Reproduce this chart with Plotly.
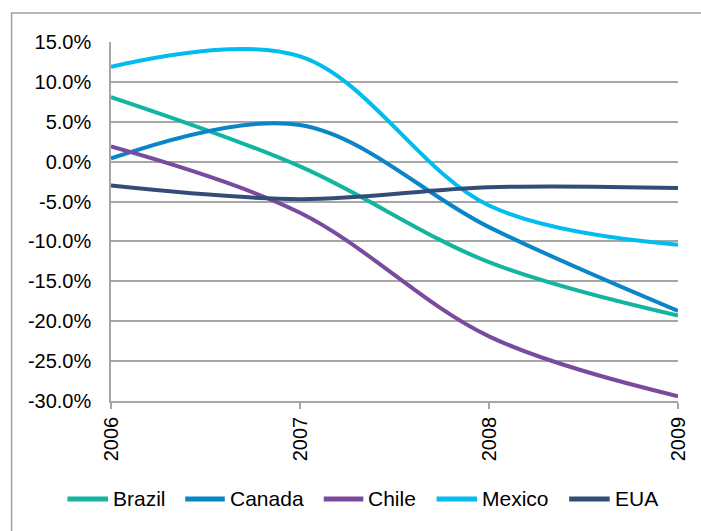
import plotly.graph_objects as go

years = ["2006", "2007", "2008", "2009"]
brazil = [8.1, -0.6, -12.6, -19.3]
canada = [0.4, 4.6, -8.2, -18.7]
chile = [1.9, -6.4, -21.9, -29.4]
mexico = [11.9, 13.2, -5.5, -10.4]
eua = [-3.0, -4.7, -3.2, -3.3]
ytick_vals = [15, 10, 5, 0, -5, -10, -15, -20, -25, -30]
ytick_text = ["15.0%", "10.0%", "5.0%", "0.0%", "-5.0%", "-10.0%", "-15.0%", "-20.0%", "-25.0%", "-30.0%"]

series = [
    ("Brazil", brazil, "#12B5A0"),
    ("Canada", canada, "#0A86C8"),
    ("Chile", chile, "#7A4A9E"),
    ("Mexico", mexico, "#00BCEF"),
    ("EUA", eua, "#344D76"),
]

xpos = list(range(len(years)))
FONT = "Liberation Sans, Arial, sans-serif"

# plot area in pixels (for legend layout conversion)
L, R, T, B = 111, 17, 42, 130
W, H = 701, 531
PW, PH = W - L - R, H - T - B


def px2x(px):
    return (px - L) / PW


def py2y(py):
    return (H - B - py) / PH


fig = go.Figure()
for name, vals, col in series:
    fig.add_trace(go.Scatter(
        x=xpos, y=vals, name=name, mode="lines", showlegend=False,
        line=dict(color=col, width=4, shape="spline", smoothing=1.0),
    ))

shapes = [dict(type="rect", xref="paper", yref="paper",
               x0=px2x(10.5), x1=1.2, y0=-0.6, y1=py2y(13),
               line=dict(color="#A0A0A0", width=1.5), fillcolor="rgba(0,0,0,0)", layer="below")]
annotations = []

# custom legend (line sample + label), positions in pixels
leg_line_x = [(65, 110), (184, 228), (324, 368), (438, 483), (572, 617)]
leg_y = 499
for (name, vals, col), (lx0, lx1) in zip(series, leg_line_x):
    shapes.append(dict(type="line", xref="paper", yref="paper",
                       x0=px2x(lx0 + 2), x1=px2x(lx1 - 2), y0=py2y(leg_y), y1=py2y(leg_y),
                       line=dict(color=col, width=5)))
    annotations.append(dict(xref="paper", yref="paper", x=px2x(lx1 + 1), y=py2y(leg_y),
                            xanchor="left", yanchor="middle", showarrow=False, text=name,
                            font=dict(family=FONT, size=21, color="#000000")))

fig.update_layout(
    width=W, height=H,
    margin=dict(l=L, r=R, t=T, b=B),
    paper_bgcolor="white", plot_bgcolor="white",
    font=dict(family=FONT, size=20, color="#000000"),
    showlegend=False,
    shapes=shapes, annotations=annotations,
)

fig.update_xaxes(
    range=[0, 3], tickmode="array", tickvals=xpos, ticktext=years,
    tickangle=-90, showgrid=False, zeroline=False,
    showline=True, linecolor="#A6A6A6", linewidth=1.5,
    ticks="outside", ticklen=6, tickcolor="#A6A6A6", tickwidth=1.5,
    tickfont=dict(size=20),
)
fig.update_yaxes(
    range=[-30, 15], tickmode="array", tickvals=ytick_vals, ticktext=ytick_text,
    showgrid=True, gridcolor="#A6A6A6", gridwidth=1.5, zeroline=False,
    showline=True, linecolor="#A6A6A6", linewidth=1.5, ticks="", ticklabelstandoff=14,
    tickfont=dict(size=20),
)

fig.write_html("out.html")
